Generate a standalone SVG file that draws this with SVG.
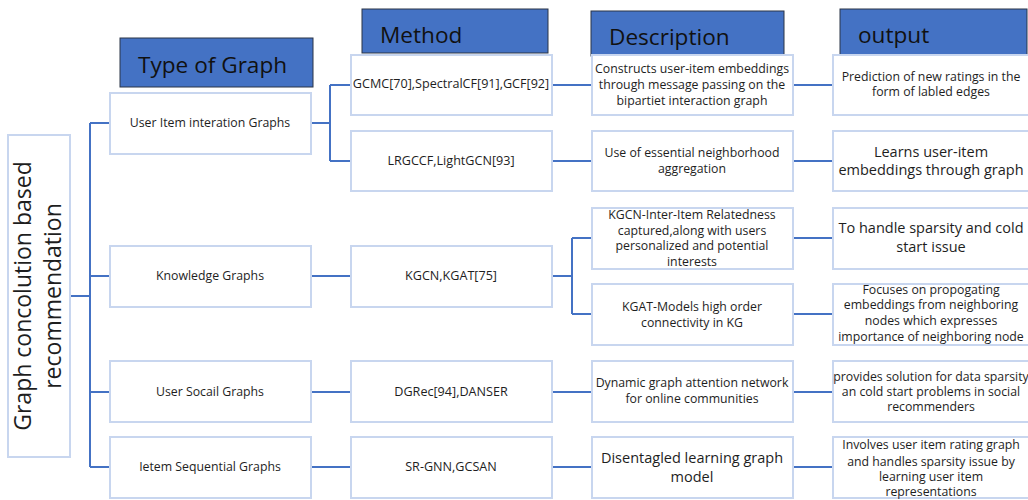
<svg xmlns="http://www.w3.org/2000/svg" width="1028" height="500" viewBox="0 0 1028 500">
<style>
.box{fill:#fff;stroke:#c8d6ef;stroke-width:2}
.hdr{fill:#4472c4;stroke:#2b3447;stroke-width:1}
.ht{font-family:"Open Sans","Noto Sans",sans-serif;font-size:22.6px;fill:#111}
.t{font-family:"Open Sans","Noto Sans",sans-serif;font-size:12.3px;fill:#1e1e1e;text-anchor:middle}
.m{font-size:12.6px}
.tb{font-family:"Open Sans","Noto Sans",sans-serif;font-size:14.5px;fill:#1e1e1e;text-anchor:middle}
.lt{font-family:"Open Sans","Noto Sans",sans-serif;font-size:23px;fill:#1e1e1e;text-anchor:middle}
.c{fill:none;stroke:#4472c4;stroke-width:2}
</style>
<rect width="1028" height="500" fill="#fff"/>
<g id="headers">
<rect class="hdr" x="120" y="38" width="193" height="49"/>
<text class="ht" x="138" y="73">Type of Graph</text>
<rect class="hdr" x="362" y="9" width="186" height="44"/>
<text class="ht" x="380" y="43">Method</text>
<rect class="hdr" x="591" y="11" width="193" height="45"/>
<text class="ht" x="609" y="45">Description</text>
<rect class="hdr" x="840" y="9" width="187" height="51"/>
<text class="ht" x="858" y="43">output</text>
</g>
<g id="connectors">
<path class="c" d="M71 296H90M90 123V467M90 123H110M90 276H110M90 392H110M90 467H110"/>
<path class="c" d="M311 123H330M330 85V161M330 85H351M330 161H351"/>
<path class="c" d="M311 276H351M311 392H351M311 467H351"/>
<path class="c" d="M552 85H592M552 161H592M552 392H592M552 467H592"/>
<path class="c" d="M552 276H572M572 238V314M572 238H592M572 314H592"/>
<path class="c" d="M793 85H833M793 161H833M793 238H833M793 314H833M793 392H833M793 467H833"/>
</g>
<g id="root">
<rect class="box" x="8" y="135" width="62" height="322"/>
<text class="lt" transform="translate(31,296) rotate(-90)">Graph concolution based</text>
<text class="lt" transform="translate(61,296) rotate(-90)">recommendation</text>
</g>
<g id="type-user-item"><rect class="box" x="110" y="93" width="201" height="61"/><text class="t" x="210" y="127">User Item interation Graphs</text></g>
<g id="type-knowledge"><rect class="box" x="110" y="246" width="201" height="61"/><text class="t" x="210" y="280">Knowledge Graphs</text></g>
<g id="type-social"><rect class="box" x="110" y="361" width="201" height="61"/><text class="t" x="210" y="396">User Socail Graphs</text></g>
<g id="type-sequential"><rect class="box" x="110" y="437" width="201" height="61"/><text class="t" x="210" y="471">Ietem Sequential Graphs</text></g>

<g id="method-gcmc"><rect class="box" x="351" y="55" width="201" height="60"/><text class="t m" x="451" y="88">GCMC[70],SpectralCF[91],GCF[92]</text></g>
<g id="method-lrgccf"><rect class="box" x="351" y="131" width="201" height="60"/><text class="t m" x="451" y="165">LRGCCF,LightGCN[93]</text></g>
<g id="method-kgcn"><rect class="box" x="351" y="246" width="201" height="61"/><text class="t m" x="451" y="280">KGCN,KGAT[75]</text></g>
<g id="method-dgrec"><rect class="box" x="351" y="361" width="201" height="61"/><text class="t m" x="451" y="396">DGRec[94],DANSER</text></g>
<g id="method-srgnn"><rect class="box" x="351" y="437" width="201" height="61"/><text class="t m" x="451" y="471">SR-GNN,GCSAN</text></g>

<g id="desc-constructs"><rect class="box" x="592" y="55" width="201" height="60"/><text class="t" x="692" y="73">Constructs user-item embeddings</text><text class="t" x="692" y="89">through message passing on the</text><text class="t" x="692" y="105">bipartiet interaction graph</text></g>
<g id="desc-use"><rect class="box" x="592" y="131" width="201" height="60"/><text class="t" x="692" y="157">Use of essential neighborhood</text><text class="t" x="692" y="173">aggregation</text></g>
<g id="desc-kgcn"><rect class="box" x="592" y="208" width="201" height="61"/><text class="t" x="692" y="219">KGCN-Inter-Item Relatedness</text><text class="t" x="692" y="235">captured,along with users</text><text class="t" x="692" y="250">personalized and potential</text><text class="t" x="692" y="266">interests</text></g>
<g id="desc-kgat"><rect class="box" x="592" y="284" width="201" height="61"/><text class="t" x="692" y="311">KGAT-Models high order</text><text class="t" x="692" y="327">connectivity in KG</text></g>
<g id="desc-dynamic"><rect class="box" x="592" y="361" width="201" height="61"/><text class="t" x="692" y="387">Dynamic graph attention network</text><text class="t" x="692" y="403">for online communities</text></g>
<g id="desc-disentagled"><rect class="box" x="592" y="437" width="201" height="61"/><text class="tb" x="692" y="463">Disentagled learning graph</text><text class="tb" x="692" y="482">model</text></g>

<g id="out-prediction"><rect class="box" x="833" y="55" width="200" height="60"/><text class="t" x="931" y="81">Prediction of new ratings in the</text><text class="t" x="931" y="96">form of labled edges</text></g>
<g id="out-learns"><rect class="box" x="833" y="131" width="200" height="60"/><text class="tb" x="931" y="157">Learns user-item</text><text class="tb" x="931" y="175">embeddings through graph</text></g>
<g id="out-handle"><rect class="box" x="833" y="208" width="200" height="61"/><text class="tb" x="931" y="233">To handle sparsity and cold</text><text class="tb" x="931" y="252">start issue</text></g>
<g id="out-focuses"><rect class="box" x="833" y="284" width="200" height="61"/><text class="t" x="931" y="294">Focuses on propogating</text><text class="t" x="931" y="309">embeddings from neighboring</text><text class="t" x="931" y="325">nodes which expresses</text><text class="t" x="931" y="341">importance of neighboring node</text></g>
<g id="out-provides"><rect class="box" x="833" y="361" width="200" height="61"/><text class="t" x="931" y="381">provides solution for data sparsity</text><text class="t" x="931" y="396">an cold start problems in social</text><text class="t" x="931" y="411">recommenders</text></g>
<g id="out-involves"><rect class="box" x="833" y="437" width="200" height="61"/><text class="t" x="931" y="449">Involves user item rating graph</text><text class="t" x="931" y="466">and handles sparsity issue by</text><text class="t" x="931" y="481">learning user item</text><text class="t" x="931" y="496">representations</text></g>
</svg>
